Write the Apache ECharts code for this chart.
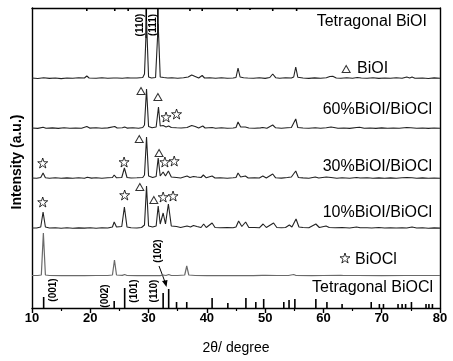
<!DOCTYPE html>
<html><head><meta charset="utf-8">
<script src="https://cdn.jsdelivr.net/npm/echarts@6/dist/echarts.min.js"></script>
<style>html,body{margin:0;padding:0;background:#fff}#c{width:453px;height:361px}</style>
</head><body><div id="c"></div>
<script>
// ---- DATA (2θ, relative intensity) ----
const xTickLabels = [10, 20, 30, 40, 50, 60, 70, 80];
const patternNames = ['BiOI', '60%BiOI/BiOCl', '30%BiOI/BiOCl', '10%BiOI/BiOCl', 'BiOCl'];
const BiOI = [[10,1],[11,0.5],[12,1.2],[13,0.6],[14,1],[15,0.4],[16,1],[17,0.7],[18,1.2],[19,1],[19.4,3],[19.8,1],[21,0.8],[22,1.3],[23,0.7],[24,1],[24.3,2.5],[24.6,1],[25.5,0.8],[26.4,1.2],[26.6,2.5],[26.9,1],[28,1],[29,1.5],[29.3,5],[29.65,58],[30.0,2],[30.5,1],[31.2,1.5],[31.65,55],[32.0,2],[32.6,1.5],[33.3,1],[34,1.2],[35,0.8],[36,1.2],[36.8,2],[37.4,4],[38,2.5],[38.6,1],[39.2,3.5],[39.6,1],[40.5,1.2],[41.5,0.8],[42.5,1.2],[43.5,0.7],[44.5,1],[45.0,1.5],[45.35,11],[45.7,2],[46.3,1.2],[46.6,2],[47,1],[48,0.8],[49,1.2],[50,0.6],[50.8,1.5],[51.3,5],[51.8,1.3],[52.5,0.8],[53.5,1.2],[54.5,1],[54.9,2],[55.25,12],[55.6,1.8],[56.5,1],[57.5,0.6],[58.5,1.1],[59.5,0.7],[60.5,1.2],[61.1,2.5],[61.6,2.8],[62.2,1],[63,0.7],[64,1.2],[65,0.8],[65.8,1.5],[66.1,2.5],[66.5,1],[67.5,0.8],[68.5,1.2],[69.5,0.6],[70.5,1],[71.5,0.7],[72.5,1.2],[73.5,0.8],[74.3,2],[74.8,1],[75.2,2],[75.7,0.8],[77,1],[78,0.5],[79,1.1],[80,0.7]];
const P60 = [[10,1],[11,0.6],[11.9,1.8],[12.4,0.8],[13.5,1.1],[14.5,0.6],[15.5,1.2],[16.5,0.7],[17.5,1],[18.5,0.8],[19.4,2.5],[19.9,0.9],[21,1.2],[22,0.7],[23,1.1],[24.2,2.5],[24.6,1],[25.5,1.2],[25.9,2],[26.3,0.9],[27.3,1.2],[28.3,0.8],[29,1.5],[29.3,4],[29.65,40],[30.0,2.5],[30.6,1.2],[31.3,2],[31.7,22],[32.0,3],[32.5,3.5],[33.0,2],[33.45,3],[33.9,1.5],[34.8,1.2],[35.6,1],[36.6,1.5],[37.4,3.5],[38,2.5],[38.6,1],[39.3,3],[39.7,1],[40.9,1.5],[41.5,0.8],[42.5,1.2],[43.5,0.8],[44.5,1],[45,1.5],[45.35,7],[45.8,2],[46.6,2],[47.2,1],[48.2,0.7],[49.2,1.1],[49.6,1.5],[50.3,0.8],[51.3,4],[51.8,1.2],[52.8,0.8],[53.8,1.2],[54.5,1.5],[55.25,10],[55.6,1.5],[56.5,1],[57.5,0.7],[58.6,1.2],[59.5,0.8],[60.5,1.3],[61.3,2],[61.8,1.5],[62.5,0.8],[63.5,1],[64.5,0.6],[65.7,1.5],[66.2,1.8],[67,0.7],[68,1],[69,0.6],[70,1.1],[71,0.7],[72,1],[73,0.7],[74.3,1.5],[75,1.2],[76,0.7],[77,1],[78,0.6],[79,1],[80,0.7]];
const P30 = [[10,1],[10.8,0.8],[11.5,1.5],[11.9,6],[12.3,1.2],[13,0.8],[14,1.2],[15,0.7],[16,1.1],[17,0.8],[18,1.2],[19,0.8],[19.5,1.8],[20.2,0.9],[21,1.2],[22,0.7],[23,1.2],[23.8,1.5],[24.1,4],[24.5,1.2],[25.4,1.5],[25.85,11],[26.3,1.5],[27,1],[28,1.2],[29,1.5],[29.3,4],[29.65,42],[30.0,3],[30.7,1.5],[31.3,2.5],[31.65,21],[32.0,3],[32.5,7],[32.9,3],[33.4,8],[33.9,2],[34.8,1.5],[35.5,1],[36.6,3],[37.1,1.5],[37.7,2.5],[38.3,2],[39,1.5],[39.4,4],[39.9,1.2],[40.9,3],[41.4,1],[42.3,1.2],[43.5,0.8],[44.5,1.2],[45,1.5],[45.35,6],[45.8,2],[46.6,3],[47.1,1],[48.2,1.2],[49,1],[49.6,3],[50.2,1],[51.3,5],[51.8,1.2],[52.8,0.9],[53.8,1.5],[54.5,2],[55.25,8],[55.7,1.5],[56.5,1.1],[57.5,0.8],[58.6,2],[59.2,1],[60.5,2],[61.3,1.5],[62.3,0.8],[63.2,1.2],[64.5,0.8],[65.7,1.5],[66.3,1],[67.5,1.2],[68.5,0.8],[69.5,1.1],[70.5,0.7],[71.5,1.1],[72.5,0.7],[73.5,1.2],[74.3,1.5],[75.2,1.3],[76,0.8],[77,1.1],[78,0.7],[79,1],[80,0.8]];
const P10 = [[10,1],[10.8,1],[11.5,2],[11.9,17],[12.3,2],[13,1],[14,1.3],[15,0.8],[16,1.2],[17,0.8],[18,1.1],[19,0.9],[20,1.2],[21,0.8],[22,1.2],[23,1],[23.8,2],[24.1,7],[24.5,2],[25.4,2.5],[25.85,22],[26.3,2],[27,1.3],[28,1],[28.8,1.5],[29.3,4],[29.65,43],[30.0,3],[30.7,2],[31.3,3],[31.65,23],[32.0,5],[32.5,16],[32.9,5],[33.4,25],[33.9,3],[34.8,2.5],[35.5,1.5],[36.6,3],[37.2,2],[37.7,3.5],[38.3,2.5],[39,1.5],[39.45,5],[39.9,1.5],[40.9,6],[41.4,1.5],[42.3,1.2],[43.5,1.5],[44.5,1.2],[45,2],[45.45,8],[46,2.5],[46.65,7],[47.2,1.5],[48.2,1.5],[49,1.2],[49.65,5],[50.2,1.5],[51.45,6],[52,1.5],[52.8,1.2],[53.5,1.5],[54.15,4],[54.6,2],[55.3,10],[55.8,2],[56.5,1.5],[57.5,1.2],[58.7,5],[59.3,1.5],[60.45,3],[61,1.5],[62,1.2],[63.2,1.5],[64.5,1],[65.7,2],[66.3,1.2],[67.5,1.3],[68.3,1],[69.5,1.5],[70.5,1],[71.5,1.3],[72.5,1],[73.5,1.2],[74.3,1],[75.2,2],[76,1],[77,1.2],[78,0.8],[79,1.1],[80,0.9]];
const BiOCl = [[10,0.5],[11,0.5],[11.6,1],[11.95,43],[12.3,1],[13,0.5],[15,0.4],[17,0.5],[19,0.4],[21,0.5],[23,0.5],[23.8,1],[24.15,16],[24.5,1],[25.5,0.6],[25.9,1.5],[26.3,0.5],[28,0.4],[30,0.5],[32,0.4],[32.5,1],[33,0.5],[33.45,1.5],[33.9,0.5],[35,0.5],[36.2,1],[36.55,10],[36.9,1],[38,0.5],[40,0.4],[42,0.5],[44,0.4],[46,0.5],[48,0.4],[49.5,0.6],[49.75,2],[50.1,0.6],[52,0.5],[54,0.5],[54.9,1.5],[55.3,0.5],[58,0.4],[60,0.5],[63,0.6],[63.2,1.5],[63.5,0.5],[66,0.5],[70,0.4],[74,0.5],[77.3,0.5],[77.6,1.5],[77.9,0.5],[80,0.5]];
// reference sticks
const refBiOCl = [[12.0,11],[24.1,7],[25.9,20],[32.5,15],[33.45,19],[34.8,6],[36.55,6],[40.9,10],[43.6,5],[46.7,10],[48.4,6],[49.75,9],[53.2,6],[54.1,8],[55.1,9],[58.7,9],[60.6,6],[63.2,4],[68.2,6],[69.6,4],[70.3,4],[72.8,4],[73.5,4],[74.1,4],[75.1,6],[77.6,4],[78.1,4],[78.7,4]];
const refBiOI = [[19.4,3],[24.2,3],[26.5,3],[29.6,30],[31.6,28],[37.1,3],[39.2,3],[45.2,3],[47.4,2],[51.3,3],[55.4,3]];
// phase markers [2θ, level]
const triMarks = [[28.7,217],[31.6,211],[28.4,169],[31.8,155],[28.5,121],[30.9,108],[63.9,239]];
const starMarks = [[33.0,191],[34.8,194],[11.84,145],[25.8,146],[32.8,146],[34.4,147],[11.84,106],[25.9,113],[32.5,111],[34.2,112],[63.7,50]];

// ---- layout ----
const Y_MAX = 300;
const offsets = {BiOI: 229, P60: 179, P30: 129, P10: 79, BiOCl: 32};
const shift = (arr, off) => arr.map(p => [p[0], p[1] + off]);
const STAR = 'path://M50,2 L61.5,36 L97,36 L68.5,57.5 L79.5,92 L50,71 L20.5,92 L31.5,57.5 L3,36 L38.5,36 Z';
const FONT = '"Liberation Sans", Arial, sans-serif';

const chart = echarts.init(document.getElementById('c'), null, {renderer: 'canvas'});
function stickSeries(data, fromTop) {
  return {
    type: 'custom', xAxisIndex: 0, yAxisIndex: 0, silent: true, z: 3,
    data: data,
    renderItem: function (params, api) {
      const x = api.value(0), h = api.value(1);
      const p0 = api.coord([x, fromTop ? Y_MAX : 0]);
      const p1 = api.coord([x, fromTop ? Y_MAX - h : h]);
      return {type: 'line', shape: {x1: p0[0], y1: p0[1], x2: p1[0], y2: p1[1]},
              style: {stroke: '#000', lineWidth: 1.6}};
    }
  };
}
const lineStyleDark = {color: '#222', width: 1.1};
const hkl = (t, x, y) => ({type: 'text', x: x, y: y, rotation: Math.PI / 2,
  style: {text: t, font: 'bold 10px ' + FONT, fill: '#000', textAlign: 'center', textVerticalAlign: 'middle'}});
const txt = (t, x, y, align) => ({type: 'text', x: x, y: y,
  style: {text: t, font: '16px ' + FONT, fill: '#000', textAlign: align, textVerticalAlign: 'middle'}});
const option = {
  animation: false,
  backgroundColor: '#fff',
  grid: {left: 32, right: 13, top: 8, bottom: 53},
  xAxis: [{
    type: 'value', min: 10, max: 80, interval: 10,
    name: '2θ/ degree', nameLocation: 'middle', nameGap: 33,
    nameTextStyle: {fontFamily: FONT, fontSize: 14, color: '#000'},
    axisLine: {onZero: false, lineStyle: {color: '#000', width: 1.4}},
    axisTick: {length: 5, lineStyle: {color: '#000', width: 1.4}},
    minorTick: {show: true, splitNumber: 2, length: 3, lineStyle: {color: '#000', width: 1.2}},
    axisLabel: {fontFamily: FONT, fontSize: 13, fontWeight: 'bold', color: '#000', margin: 4,
                formatter: v => xTickLabels.indexOf(v) >= 0 ? String(v) : ''},
    splitLine: {show: false}
  }, {
    type: 'value', min: 10, max: 80, position: 'top',
    axisLine: {onZero: false, lineStyle: {color: '#000', width: 1.4}},
    axisTick: {show: false}, axisLabel: {show: false}, splitLine: {show: false}
  }],
  yAxis: [{
    type: 'value', min: 0, max: Y_MAX,
    axisLine: {show: true, onZero: false, lineStyle: {color: '#000', width: 1.4}},
    axisTick: {show: false}, axisLabel: {show: false}, splitLine: {show: false}
  }, {
    type: 'value', min: 0, max: Y_MAX, position: 'right',
    axisLine: {show: true, onZero: false, lineStyle: {color: '#000', width: 1.4}},
    axisTick: {show: false}, axisLabel: {show: false}, splitLine: {show: false}
  }],
  series: [
    {name: patternNames[0], type: 'line', data: shift(BiOI, offsets.BiOI), showSymbol: false, lineStyle: lineStyleDark},
    {name: patternNames[1], type: 'line', data: shift(P60, offsets.P60), showSymbol: false, lineStyle: lineStyleDark},
    {name: patternNames[2], type: 'line', data: shift(P30, offsets.P30), showSymbol: false, lineStyle: lineStyleDark},
    {name: patternNames[3], type: 'line', data: shift(P10, offsets.P10), showSymbol: false, lineStyle: lineStyleDark},
    {name: patternNames[4], type: 'line', data: shift(BiOCl, offsets.BiOCl), showSymbol: false, lineStyle: {color: '#6a6a6a', width: 1.2}},
    stickSeries(refBiOCl, false),
    stickSeries(refBiOI, true),
    {type: 'scatter', data: triMarks, symbol: 'triangle', symbolSize: [8, 7], z: 5,
     itemStyle: {color: '#fff', borderColor: '#000', borderWidth: 1}},
    {type: 'scatter', data: starMarks, symbol: STAR, symbolSize: 10, z: 5,
     itemStyle: {color: '#fff', borderColor: '#000', borderWidth: 1}}
  ],
  graphic: [
    {type: 'text', x: 17, y: 162, rotation: Math.PI / 2,
     style: {text: 'Intensity (a.u.)', font: 'bold 14px ' + FONT, fill: '#000', textAlign: 'center', textVerticalAlign: 'middle'}},
    txt('Tetragonal BiOI', 427, 22, 'right'),
    txt('BiOI', 357, 69, 'left'),
    txt('60%BiOI/BiOCl', 432, 110, 'right'),
    txt('30%BiOI/BiOCl', 432, 167, 'right'),
    txt('10%BiOI/BiOCl', 432, 213, 'right'),
    txt('BiOCl', 355, 260, 'left'),
    txt('Tetragonal BiOCl', 433, 288, 'right'),
    hkl('(110)', 140, 25), hkl('(111)', 153, 25),
    hkl('(001)', 53, 290), hkl('(002)', 105, 296), hkl('(101)', 134, 291),
    hkl('(110)', 154, 291), hkl('(102)', 158, 251),
    {type: 'line', shape: {x1: 159, y1: 266, x2: 165, y2: 282}, style: {stroke: '#000', lineWidth: 1}},
    {type: 'polygon', shape: {points: [[166.5, 287], [162, 281], [167.5, 280]]}, style: {fill: '#000'}}
  ]
};
chart.setOption(option);
</script></body></html>
